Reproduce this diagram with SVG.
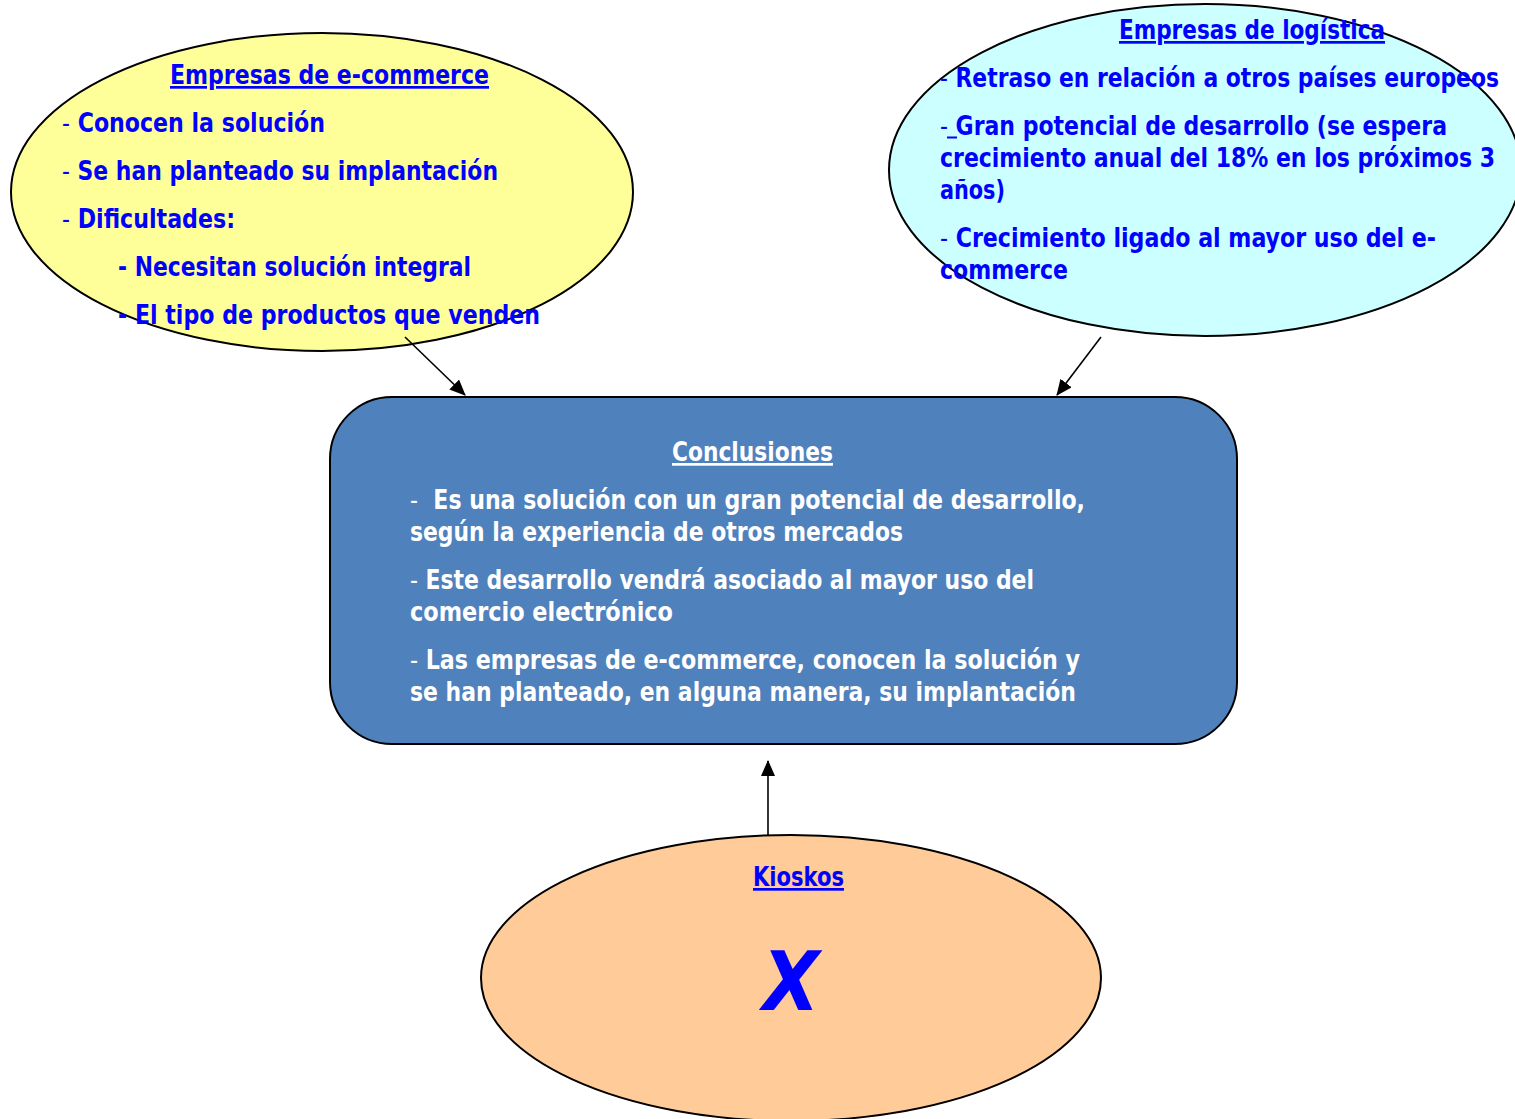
<svg xmlns="http://www.w3.org/2000/svg" width="1515" height="1119" viewBox="0 0 1515 1119">
<defs>
<style>
text{font-family:"DejaVu Sans Condensed","DejaVu Sans",sans-serif;font-weight:bold;font-size:27px}
.b{fill:#0000FF}
.w{fill:#FFFFFF}
.u{text-decoration:underline}
.d{font-weight:normal}
.shape{stroke:#000;stroke-width:2}
.conn{stroke:#000;stroke-width:1.6;fill:none}
</style>
<marker id="ah" markerWidth="16" markerHeight="14" refX="15" refY="7" orient="auto" markerUnits="userSpaceOnUse" viewBox="0 0 16 14">
<path d="M0,0 L16,7 L0,14 Z" fill="#000"/>
</marker>
</defs>
<rect width="1515" height="1119" fill="#FFFFFF"/>

<g id="ecommerce">
<ellipse class="shape" cx="322" cy="192" rx="311" ry="159" fill="#FFFF99"/>
<text class="b u" x="170" y="84" textLength="319" lengthAdjust="spacingAndGlyphs">Empresas de e-commerce</text>
<text class="b" x="62" y="132" textLength="263" lengthAdjust="spacingAndGlyphs"><tspan class="d">-</tspan> Conocen la solución</text>
<text class="b" x="62" y="180" textLength="436" lengthAdjust="spacingAndGlyphs"><tspan class="d">-</tspan> Se han planteado su implantación</text>
<text class="b" x="62" y="228" textLength="173" lengthAdjust="spacingAndGlyphs"><tspan class="d">-</tspan> Dificultades:</text>
<text class="b" x="118" y="276" textLength="353" lengthAdjust="spacingAndGlyphs">- Necesitan solución integral</text>
<text class="b" x="118" y="324" textLength="422" lengthAdjust="spacingAndGlyphs">- El tipo de productos que venden</text>
</g>

<g id="logistica">
<ellipse class="shape" cx="1205" cy="170" rx="316" ry="166" fill="#CCFFFF"/>
<text class="b u" x="1119" y="39" textLength="266" lengthAdjust="spacingAndGlyphs">Empresas de logística</text>
<text class="b" x="940" y="87" textLength="559" lengthAdjust="spacingAndGlyphs"><tspan class="d">-</tspan> Retraso en relación a otros países europeos</text>
<text class="b" x="940" y="135" textLength="507" lengthAdjust="spacingAndGlyphs"><tspan class="d">-</tspan> Gran potencial de desarrollo (se espera</text>
<line x1="947" y1="137.5" x2="957" y2="137.5" stroke="#0000FF" stroke-width="2"/>
<text class="b" x="940" y="167" textLength="555" lengthAdjust="spacingAndGlyphs">crecimiento anual del 18% en los próximos 3</text>
<text class="b" x="940" y="199" textLength="65" lengthAdjust="spacingAndGlyphs">años)</text>
<text class="b" x="940" y="247" textLength="496" lengthAdjust="spacingAndGlyphs"><tspan class="d">-</tspan> Crecimiento ligado al mayor uso del e-</text>
<text class="b" x="940" y="279" textLength="128" lengthAdjust="spacingAndGlyphs">commerce</text>
</g>

<g id="conclusiones">
<rect class="shape" x="330" y="397" width="907" height="347" rx="62" ry="62" fill="#4F81BD"/>
<text class="w u" x="672" y="461" textLength="161" lengthAdjust="spacingAndGlyphs">Conclusiones</text>
<text class="w" x="410" y="509" textLength="675" lengthAdjust="spacingAndGlyphs" xml:space="preserve"><tspan class="d">-</tspan>  Es una solución con un gran potencial de desarrollo,</text>
<text class="w" x="410" y="541" textLength="493" lengthAdjust="spacingAndGlyphs">según la experiencia de otros mercados</text>
<text class="w" x="410" y="589" textLength="624" lengthAdjust="spacingAndGlyphs"><tspan class="d">-</tspan> Este desarrollo vendrá asociado al mayor uso del</text>
<text class="w" x="410" y="621" textLength="263" lengthAdjust="spacingAndGlyphs">comercio electrónico</text>
<text class="w" x="410" y="669" textLength="670" lengthAdjust="spacingAndGlyphs"><tspan class="d">-</tspan> Las empresas de e-commerce, conocen la solución y</text>
<text class="w" x="410" y="701" textLength="666" lengthAdjust="spacingAndGlyphs">se han planteado, en alguna manera, su implantación</text>
</g>

<g id="kioskos">
<ellipse class="shape" cx="791" cy="978" rx="310" ry="143" fill="#FFCC99"/>
<text class="b u" x="753" y="886" textLength="91" lengthAdjust="spacingAndGlyphs">Kioskos</text>
<text class="b" x="791" y="1010" text-anchor="middle" font-style="italic" style="font-size:82px">X</text>
</g>

<g id="connectors">
<line class="conn" x1="405" y1="337" x2="465" y2="395" marker-end="url(#ah)"/>
<line class="conn" x1="1101" y1="337" x2="1057" y2="395" marker-end="url(#ah)"/>
<line class="conn" x1="768" y1="835" x2="768" y2="761" marker-end="url(#ah)"/>
</g>
</svg>
